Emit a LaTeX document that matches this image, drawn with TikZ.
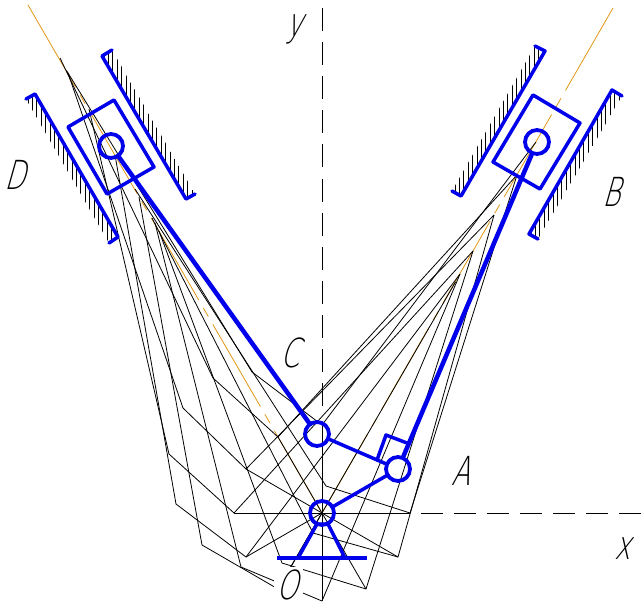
\documentclass[tikz,border=0pt]{standalone}
\usepackage{fontspec}
\newfontfamily\labfont[FakeSlant=0.28,FakeStretch=0.68]{DejaVu Sans ExtraLight}
\definecolor{mechblue}{RGB}{0,0,235}
\definecolor{axisorange}{RGB}{225,150,20}
\tikzset{
  joint/.style={circle,draw=mechblue,line width=3.8pt,minimum size=24pt,inner sep=0pt},
  rod/.style={draw=mechblue,line width=4.5pt,line cap=round},
  linkbar/.style={draw=mechblue,line width=3.5pt,line join=round,line cap=round},
  ghost/.style={draw=black,line width=0.8pt,line join=round},
  spoke/.style={draw=black,line width=0.8pt},
  axisline/.style={draw=black,line width=1pt},
  slideline/.style={draw=axisorange,line width=0.8pt,dash pattern=on 95pt off 9pt on 10pt off 9pt},
  hatchline/.style={draw=black,line width=0.9pt},
  letter/.style={inner sep=0pt,font=\labfont\fontsize{40}{40}\selectfont,text=black}
}
\begin{document}
\begin{tikzpicture}[x=1pt,y=-1pt]
\useasboundingbox (0,0) rectangle (644,613);
% slide lines
\coordinate (Lend) at (28,5);
\coordinate (Rend) at (613,8);
\coordinate (Ocentre) at (322,513);
\draw[slideline] (Lend) -- (Ocentre);
\draw[slideline] (Rend) -- (Ocentre);
% ghost positions of the mechanism
\foreach \n/\dx/\dy/\cx/\cy/\ax/\ay/\bx/\by in {
 a/135/189/326/486/410/513/517/175,
 b/152/218/313/533/398/557/494/215,
 c/159/231/282/563/366/589/473/251,
 d/155/223/241/567/322/601/460/274,
 e/139/197/202/545/278/589/455.5/282,
 f/115/155/176/504/246/557/460/274,
 g/89/109/169/454/234/513/473/251,
 h/68/73/183/408/246/469/494/215,
 i/60/58/213/378/278/437/517/175,
 j/66.5/70.5/252/372/322/425/536/142}{
  \coordinate (D\n) at (\dx,\dy);
  \coordinate (C\n) at (\cx,\cy);
  \coordinate (A\n) at (\ax,\ay);
  \coordinate (B\n) at (\bx,\by);
  \draw[ghost] (D\n) -- (C\n) -- (A\n) -- (B\n);
  \draw[spoke] (Ocentre) -- (A\n);
}
% axes
\coordinate (Ytop) at (322,8);
\coordinate (Ybot) at (322,406);
\coordinate (Xleft) at (421,513);
\coordinate (Xright) at (641,513);
\draw[axisline,dash pattern=on 23pt off 11.1pt] (Ytop) -- (Ybot);
\draw[axisline,dash pattern=on 22pt off 11pt] (Xleft) -- (Xright);
% hatching of the guides
\begin{scope}
 \clip (26,99) -- (35,94) -- (118,237) -- (109,243) -- cycle;
 \foreach \x in {28,32.4,...,120} \draw[hatchline] (\x,90) -- (\x,250);
\end{scope}
\begin{scope}
 \clip (112,50) -- (102,56) -- (186,199) -- (195,194) -- cycle;
 \foreach \x in {104,108.4,...,196} \draw[hatchline] (\x,45) -- (\x,205);
\end{scope}
\begin{scope}
 \clip (535,46) -- (545,51) -- (461,196) -- (452,191) -- cycle;
 \foreach \x in {455,459.4,...,546} \draw[hatchline] (\x,40) -- (\x,200);
\end{scope}
\begin{scope}
 \clip (622,96) -- (612,90) -- (529,234) -- (538,239) -- cycle;
 \foreach \x in {531,535.4,...,624} \draw[hatchline] (\x,85) -- (\x,245);
\end{scope}
% guides
\draw[linkbar] (26,99) -- (35,94) -- (118,237) -- (109,243);
\draw[linkbar] (112,50) -- (102,56) -- (186,199) -- (195,194);
\draw[linkbar] (535,46) -- (545,51) -- (461,196) -- (452,191);
\draw[linkbar] (622,96) -- (612,90) -- (529,234) -- (538,239);
% sliders
\draw[linkbar] (68,127) -- (114,100) -- (154,167) -- (107,194) -- cycle;
\draw[linkbar] (533,95) -- (580,123) -- (540,189) -- (493,162) -- cycle;
% joints
\node[joint] (O) at (322,513) {};
\node[joint] (A) at (398,469) {};
\node[joint] (C) at (317,434) {};
\node[joint] (B) at (537,142) {};
\node[joint] (D) at (111,146) {};
% links
\draw[rod] (D) -- (C);
\draw[rod] (A) -- (B);
\draw[linkbar] (C) -- (A);
\draw[linkbar] (O) -- (A);
\coordinate (R1) at (377,460);
\coordinate (R2) at (386,435);
\coordinate (R3) at (407,443);
\draw[linkbar] (R1) -- (R2) -- (R3);
% support
\coordinate (BaseL) at (277,558);
\coordinate (BaseR) at (367,558);
\coordinate (FootL) at (298,558);
\coordinate (FootR) at (345,558);
\coordinate (HeadL) at (317,524);
\coordinate (HeadR) at (328,524);
\draw[linkbar,line cap=butt] (BaseL) -- (BaseR);
\draw[linkbar] (FootL) -- (HeadL) -- (HeadR) -- (FootR);
% labels
\node[letter] (ly) at (295,29) {y};
\node[letter] (lD) at (15,175) {D};
\node[letter] (lB) at (611,192) {B};
\node[letter] (lC) at (290,353) {C};
\node[letter] (lA) at (461,471) {A};
\node[letter] (lx) at (623,549) {x};
\fill[white] (274,567) rectangle (303,606);
\node[letter] (lO) at (287,585) {O};
\end{tikzpicture}
\end{document}
